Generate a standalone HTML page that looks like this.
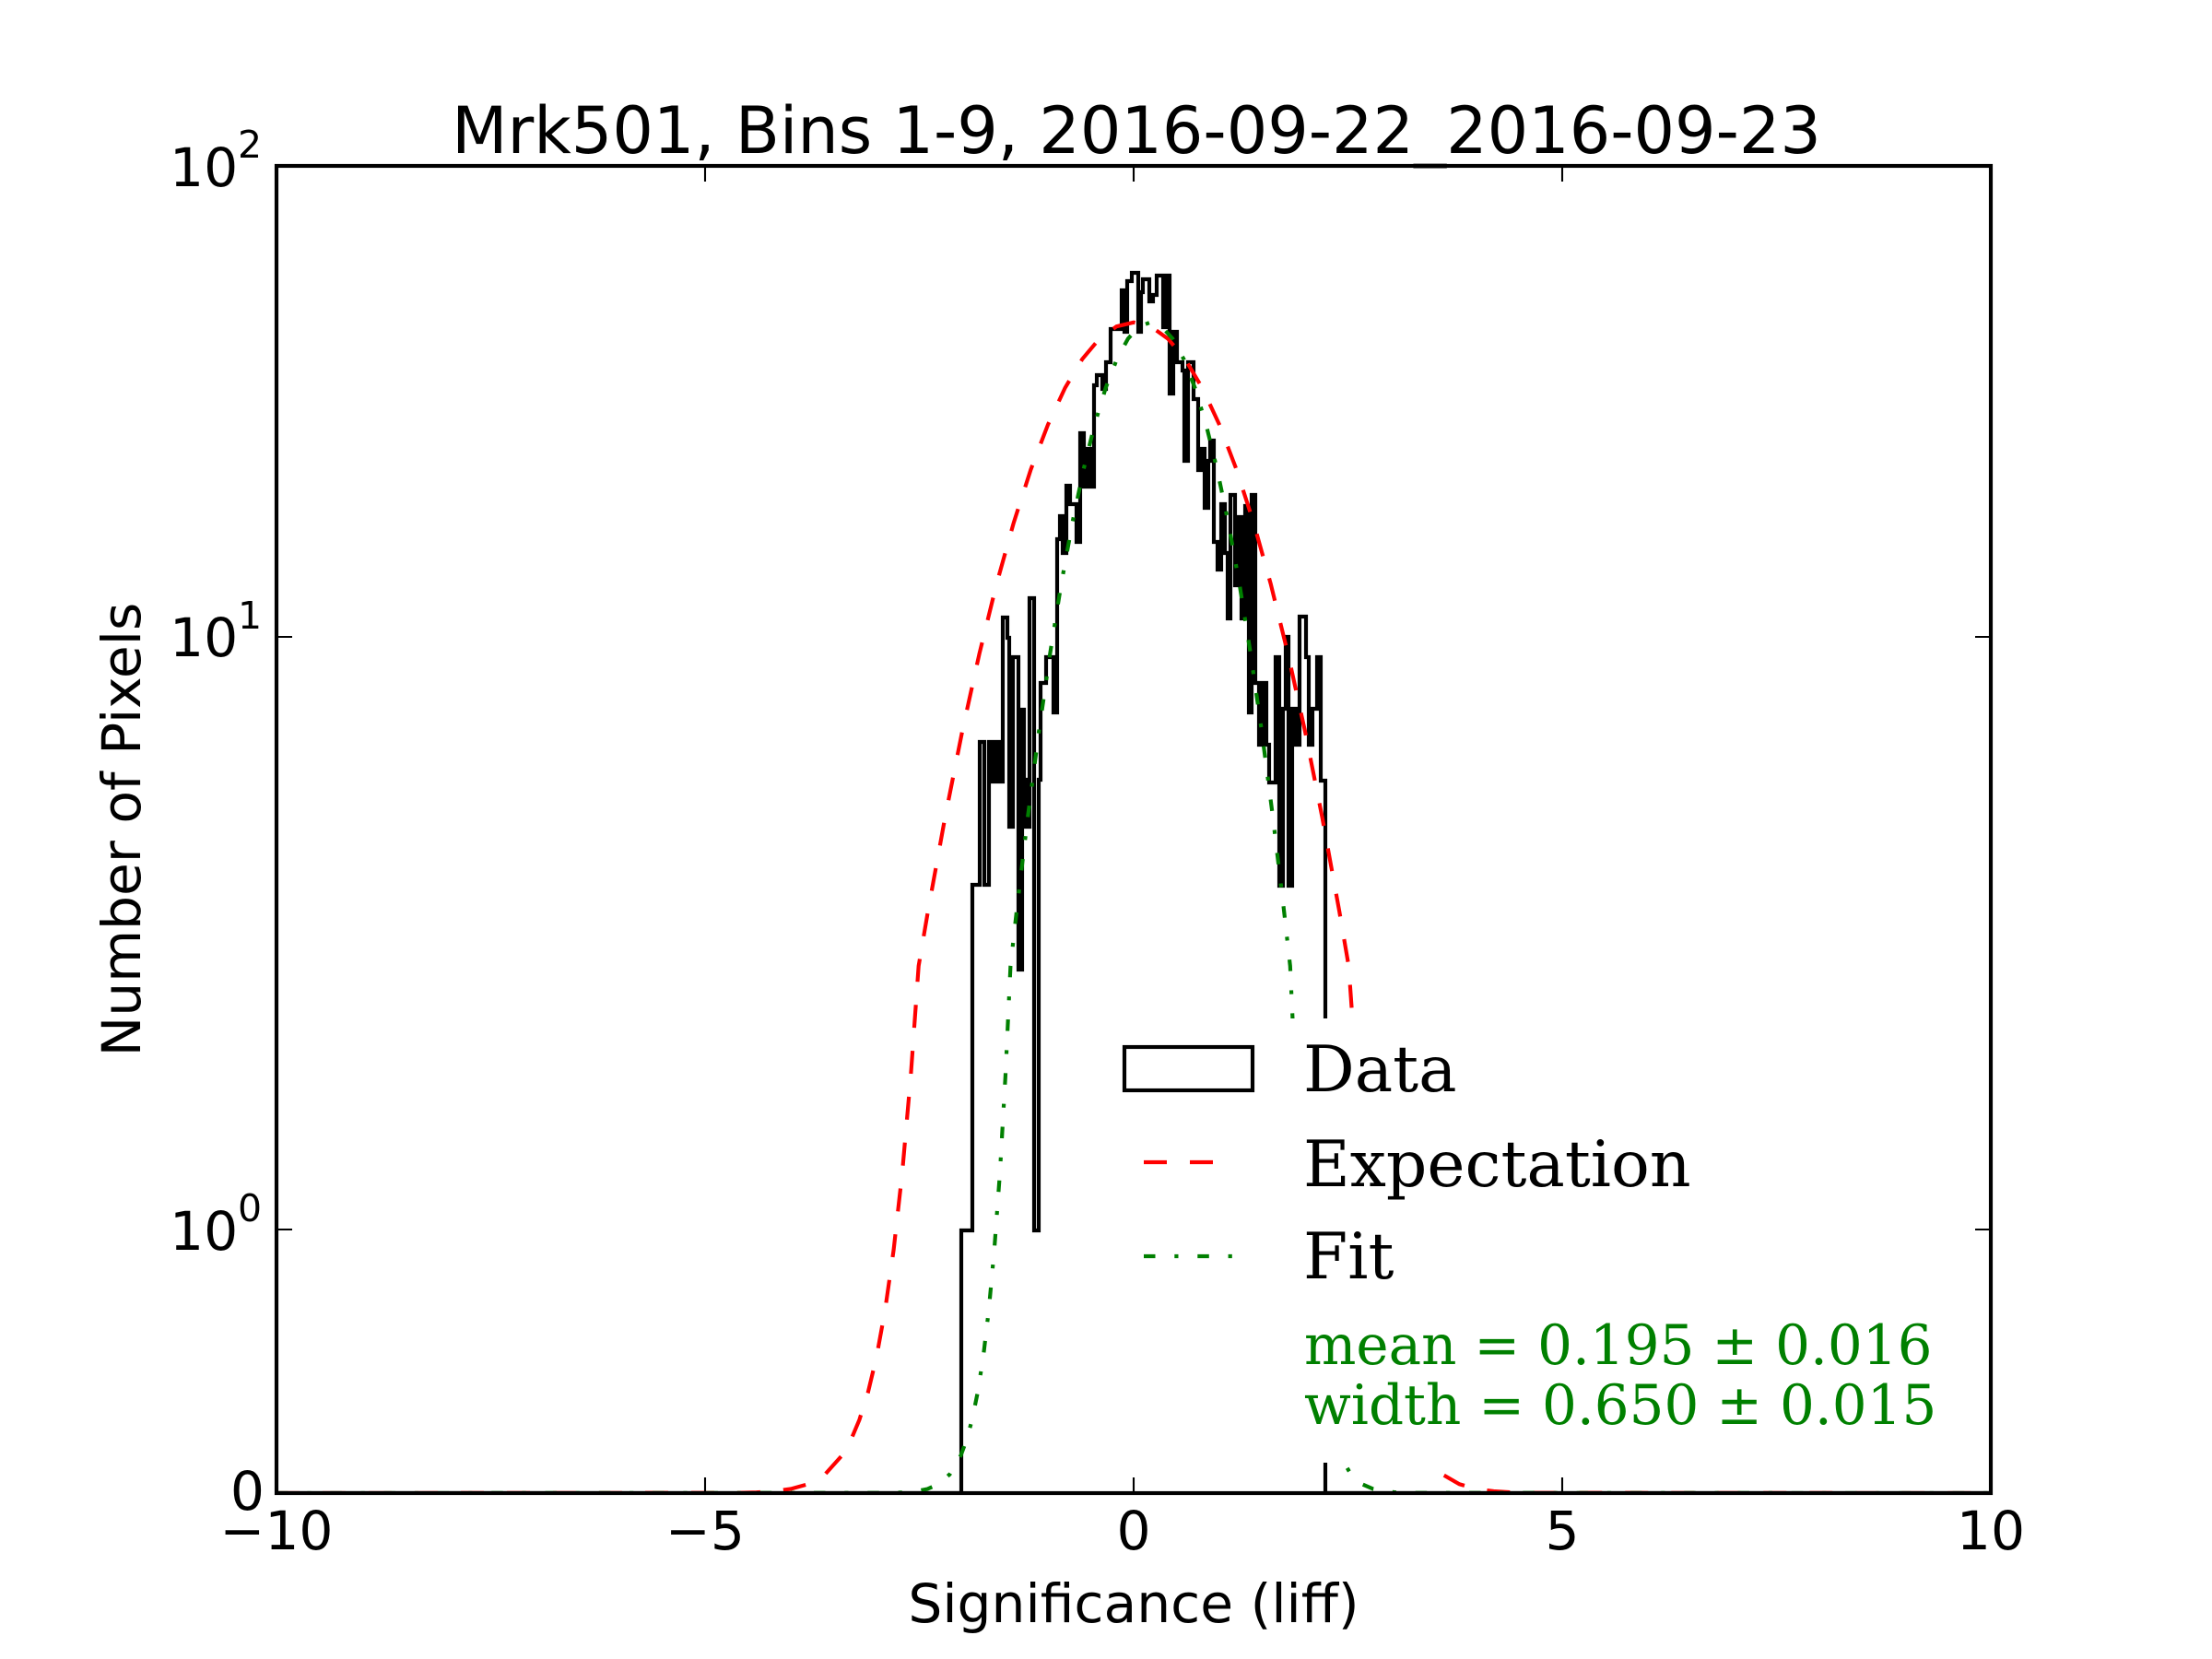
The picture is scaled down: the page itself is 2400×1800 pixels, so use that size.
<!DOCTYPE html>
<html>
<head>
<meta charset="utf-8">
<style>
html,body{margin:0;padding:0;background:#ffffff;}
svg{display:block;}
</style>
</head>
<body>
<svg width="2400" height="1800" viewBox="0 0 2400 1800" xmlns="http://www.w3.org/2000/svg">
<rect x="0" y="0" width="2400" height="1800" fill="#ffffff"/>
<defs>
<clipPath id="ax"><rect x="300" y="180" width="1860" height="1440"/></clipPath>
</defs>

<g clip-path="url(#ax)" fill="none">
<!-- Data histogram -->
<path stroke="#000000" stroke-width="4.17" stroke-linejoin="miter" d="M300,1620 H1043 V1335 H1055 V960 H1063 V805 H1068 V960 H1073 V805 H1077 V848 H1081 V805 H1085 V848 H1088 V670 H1093 V692 H1095 V897 H1099 V713 H1105 V1052 H1109 V770 H1111 V846 H1113 V897 H1117 V649 H1122 V1335 H1127 V846 H1129 V741 H1135 V713 H1143 V773 H1147 V585 H1150 V560 H1153 V600 H1157 V527 H1161 V547 H1168 V588 H1172 V470 H1176 V528 H1180 V487 H1184 V528 H1187 V418 H1190 V407 H1196 V422 H1200 V393 H1205 V357 H1217 V315 H1220 V360 H1223 V305 H1228 V296 H1235 V360 H1238 V317 H1240 V303 H1247 V327 H1251 V320 H1255 V299 H1262 V355 H1265 V299 H1269 V427 H1273 V360 H1277 V393 H1283 V402 H1285 V500 H1289 V393 H1295 V433 H1300 V510 H1304 V487 H1307 V551 H1311 V500 H1313 V478 H1317 V588 H1321 V618 H1325 V547 H1329 V600 H1332 V671 H1335 V537 H1340 V635 H1343 V561 H1347 V671 H1351 V549 H1355 V773 H1358 V537 H1362 V741 H1366 V808 H1370 V741 H1374 V808 H1377 V849 H1384 V713 H1388 V961 H1392 V769 H1395 V691 H1398 V961 H1402 V769 H1406 V808 H1410 V669 H1417 V713 H1420 V808 H1424 V769 H1429 V713 H1433 V847 H1438 V1620 H2160"/>

<!-- Expectation -->
<polyline stroke="#ff0000" stroke-width="4.17" stroke-dasharray="25 25" stroke-linecap="butt" points="300,1620 802.2,1619.7 820.8,1619.2 839.4,1618.0 858,1615.5 876.6,1610.3 895.2,1599.6 913.8,1578.9 923.1,1562.6 932.4,1540.5 941.7,1511.1 951,1472.3 960.3,1421.6 969.6,1356.1 978.9,1272.6 988.2,1167.2 996.7,1048 1006.8,988.9 1025.4,886.8 1044,793.6 1062.6,709.3 1081.2,633.8 1099.8,567.3 1118.4,509.5 1137,460.8 1155.6,420.8 1174.2,389.7 1192.8,367.5 1211.4,354.2 1230,349.8 1248.6,354.2 1267.2,367.5 1285.8,389.7 1304.4,420.8 1323,460.8 1341.6,509.5 1360.2,567.3 1378.8,633.8 1397.4,709.3 1416,793.6 1434.6,886.8 1453.2,988.9 1463.3,1048 1471.8,1167.2 1481.1,1272.6 1490.4,1356.1 1499.7,1421.6 1509,1472.3 1518.3,1511.1 1527.6,1540.5 1536.9,1562.6 1546.2,1578.9 1564.8,1599.6 1583.4,1610.3 1602,1615.5 1620.6,1618.0 1639.2,1619.2 1657.8,1619.7 2160,1620"/>

<!-- Fit -->
<polyline stroke="#008000" stroke-width="4.17" stroke-dasharray="12.5 20.8 4.2 20.8" stroke-linecap="butt" points="300,1620 970.0,1619.7 982.1,1619.2 994.2,1618.0 1006.3,1615.5 1018.4,1610.3 1030.5,1599.6 1042.6,1578.9 1048.6,1562.6 1054.7,1540.5 1060.7,1511.1 1066.8,1472.3 1072.8,1421.6 1078.8,1356.1 1084.9,1272.6 1090.9,1167.2 1096.4,1048 1103.0,988.9 1115.1,886.8 1127.2,793.6 1139.3,709.3 1151.4,633.8 1163.5,567.3 1175.6,509.5 1187.6,460.8 1199.7,420.8 1211.8,389.7 1223.9,367.5 1236.0,354.2 1248.1,349.8 1260.2,354.2 1272.3,367.5 1284.4,389.7 1296.5,420.8 1308.6,460.8 1320.6,509.5 1332.7,567.3 1344.8,633.8 1356.9,709.3 1369.0,793.6 1381.1,886.8 1393.2,988.9 1399.8,1048 1405.3,1167.2 1411.3,1272.6 1417.4,1356.1 1423.4,1421.6 1429.5,1472.3 1435.5,1511.1 1441.5,1540.5 1447.6,1562.6 1453.6,1578.9 1465.7,1599.6 1477.8,1610.3 1489.9,1615.5 1502.0,1618.0 1514.1,1619.2 1526.2,1619.7 2160,1620"/>
</g>

<!-- Legend background -->
<rect x="1191" y="1105" width="933" height="482" fill="#ffffff"/>

<!-- Legend handles -->
<rect x="1220" y="1136" width="139" height="47" fill="none" stroke="#000000" stroke-width="4.17"/>
<line x1="1241" y1="1261" x2="1316" y2="1261" stroke="#ff0000" stroke-width="4.17" stroke-dasharray="25 25"/>
<line x1="1241" y1="1363" x2="1341" y2="1363" stroke="#008000" stroke-width="4.17" stroke-dasharray="12.5 20.8 4.2 20.8"/>

<g font-family="'DejaVu Serif','Liberation Serif',serif">
<text x="1414" y="1184" font-size="69.5" fill="#000000">Data</text>
<text x="1414" y="1287" font-size="69.5" fill="#000000">Expectation</text>
<text x="1414" y="1387" font-size="69.5" fill="#000000">Fit</text>
<text x="1415" y="1480" font-size="59.5" fill="#008000">mean = 0.195 ± 0.016</text>
<text x="1415" y="1545" font-size="59.5" fill="#008000">width = 0.650 ± 0.015</text>
</g>

<!-- Axes spine -->
<rect x="300" y="180" width="1860" height="1440" fill="none" stroke="#000000" stroke-width="4.17"/>

<!-- Ticks -->
<g stroke="#000000" stroke-width="2.1">
<line x1="765" y1="1620" x2="765" y2="1603"/>
<line x1="1230" y1="1620" x2="1230" y2="1603"/>
<line x1="1695" y1="1620" x2="1695" y2="1603"/>
<line x1="765" y1="180" x2="765" y2="197"/>
<line x1="1230" y1="180" x2="1230" y2="197"/>
<line x1="1695" y1="180" x2="1695" y2="197"/>
<line x1="300" y1="691" x2="317" y2="691"/>
<line x1="300" y1="1334" x2="317" y2="1334"/>
<line x1="2160" y1="691" x2="2143" y2="691"/>
<line x1="2160" y1="1334" x2="2143" y2="1334"/>
</g>

<g font-family="'DejaVu Sans','Liberation Sans',sans-serif" fill="#000000">
<!-- Title -->
<text x="1233" y="166" font-size="70" text-anchor="middle">Mrk501, Bins 1-9, 2016-09-22_2016-09-23</text>

<!-- X tick labels -->
<text x="300" y="1681" font-size="58.3" text-anchor="middle">−10</text>
<text x="765" y="1681" font-size="58.3" text-anchor="middle">−5</text>
<text x="1230" y="1681" font-size="58.3" text-anchor="middle">0</text>
<text x="1695" y="1681" font-size="58.3" text-anchor="middle">5</text>
<text x="2160" y="1681" font-size="58.3" text-anchor="middle">10</text>

<!-- Y tick labels -->
<text x="184" y="202" font-size="58.3">10</text>
<text x="258" y="171" font-size="41">2</text>
<text x="184" y="712" font-size="58.3">10</text>
<text x="258" y="682" font-size="41">1</text>
<text x="184" y="1356" font-size="58.3">10</text>
<text x="258" y="1325" font-size="41">0</text>
<text x="287" y="1638" font-size="58.3" text-anchor="end">0</text>

<!-- Axis labels -->
<text x="1230" y="1760" font-size="58.3" text-anchor="middle">Significance (liff)</text>
<text transform="translate(152,900) rotate(-90)" font-size="58.3" text-anchor="middle">Number of Pixels</text>
</g>
</svg>
</body>
</html>
